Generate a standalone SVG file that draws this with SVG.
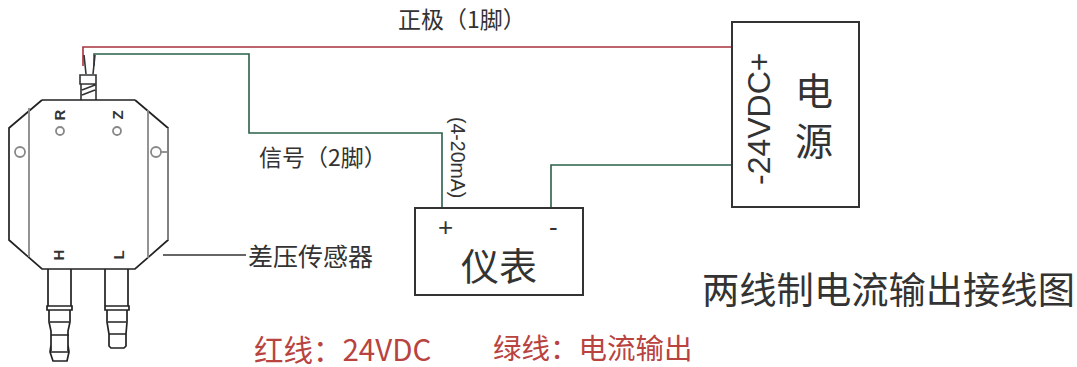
<svg xmlns="http://www.w3.org/2000/svg" width="1077" height="367" viewBox="0 0 1077 367">
<style>
text{font-family:"Noto Sans CJK SC","Liberation Sans",sans-serif;fill:#333}
.l{font-family:"Liberation Sans","Noto Sans CJK SC",sans-serif}
.r{fill:#b8433f}
.box{fill:#fff;stroke:#333;stroke-width:2}
.wr{fill:none;stroke:#a8323c;stroke-width:1.6}
.wg{fill:none;stroke:#2a6048;stroke-width:1.6}
.d{fill:none;stroke:#333;stroke-width:1.6}
.g{fill:none;stroke:#888;stroke-width:1.8}
.k{fill:none;stroke:#222;stroke-width:1.7}
</style>
<g id="connectors">
<path class="wr" d="M83 66V47H733"/>
<path class="wg" d="M94 66V54H249V133H442V208"/>
<path class="wg" d="M551 208V165H732"/>
<path d="M163 255H246" fill="none" stroke="#666" stroke-width="2"/>
</g>
<g id="sensor">
<path class="d" d="M84 55L86 74M95 55L93 74"/>
<path class="d" d="M80 75H96V84H80ZM81 84V100M96 84V100M82 90L95 85M82 95L95 90" fill="#fff"/>
<path class="k" d="M42 100H135M42 100L9 128V240L42 269H135L168 240V128L135 100"/>
<path class="g" d="M29 108V257M148 110V258M168 128V240"/>
<circle class="g" cx="60" cy="131" r="4"/><circle class="g" cx="117" cy="131" r="4"/>
<circle class="g" cx="20" cy="152" r="5"/><circle class="g" cx="156" cy="152" r="5"/>
<path class="g" d="M161 152H168"/>
<text class="l" transform="translate(60 115) rotate(-90)" text-anchor="middle" font-size="15" font-weight="700" y="5">R</text>
<text class="l" transform="translate(118 115) rotate(-90)" text-anchor="middle" font-size="15" font-weight="700" y="5">Z</text>
<text class="l" transform="translate(59 255) rotate(-90)" text-anchor="middle" font-size="15" font-weight="700" y="5">H</text>
<text class="l" transform="translate(119 255) rotate(-90)" text-anchor="middle" font-size="15" font-weight="700" y="5">L</text>
<path class="k" d="M48 269V306M71 269V306M47 306H72V310H47ZM49 310V322L51 331V351M70 310V322L68 331V351M50 322H69M51 335H69M51 345L50 352L53 361H67L69 352L68 345M50 352H69"/>
<path class="k" d="M105 269V306M128 269V306M105 306H129V310H105ZM107 310V322L109 334V346L111 348H124L126 346V334L127 322V310M108 322H126M109 334H126"/>
</g>
<text x="398" y="28" font-size="23">正极（1脚）</text>
<text x="259" y="166" font-size="23">信号（2脚）</text>
<text class="l" transform="translate(451 117) rotate(90)" font-size="19.5">(4-20mA)</text>
<g id="meter">
<rect class="box" x="415" y="208" width="168" height="87"/>
<text class="l" x="438" y="236" font-size="26">+</text>
<text class="l" x="549" y="236" font-size="26">-</text>
<text x="461" y="280" font-size="38">仪表</text>
</g>
<g id="power">
<rect class="box" x="732" y="22" width="127" height="185"/>
<text class="l" transform="translate(770 185) rotate(-90)" font-size="32">-24VDC+</text>
<text x="795" y="105" font-size="38">电</text>
<text x="795" y="155" font-size="38">源</text>
</g>
<text x="248" y="266" font-size="25">差压传感器</text>
<text x="702" y="304" font-size="37.3">两线制电流输出接线图</text>
<text class="r" x="254" y="361" font-size="29.5">红线：24VDC</text>
<text class="r" x="493" y="359" font-size="28.5">绿线：电流输出</text>
</svg>
